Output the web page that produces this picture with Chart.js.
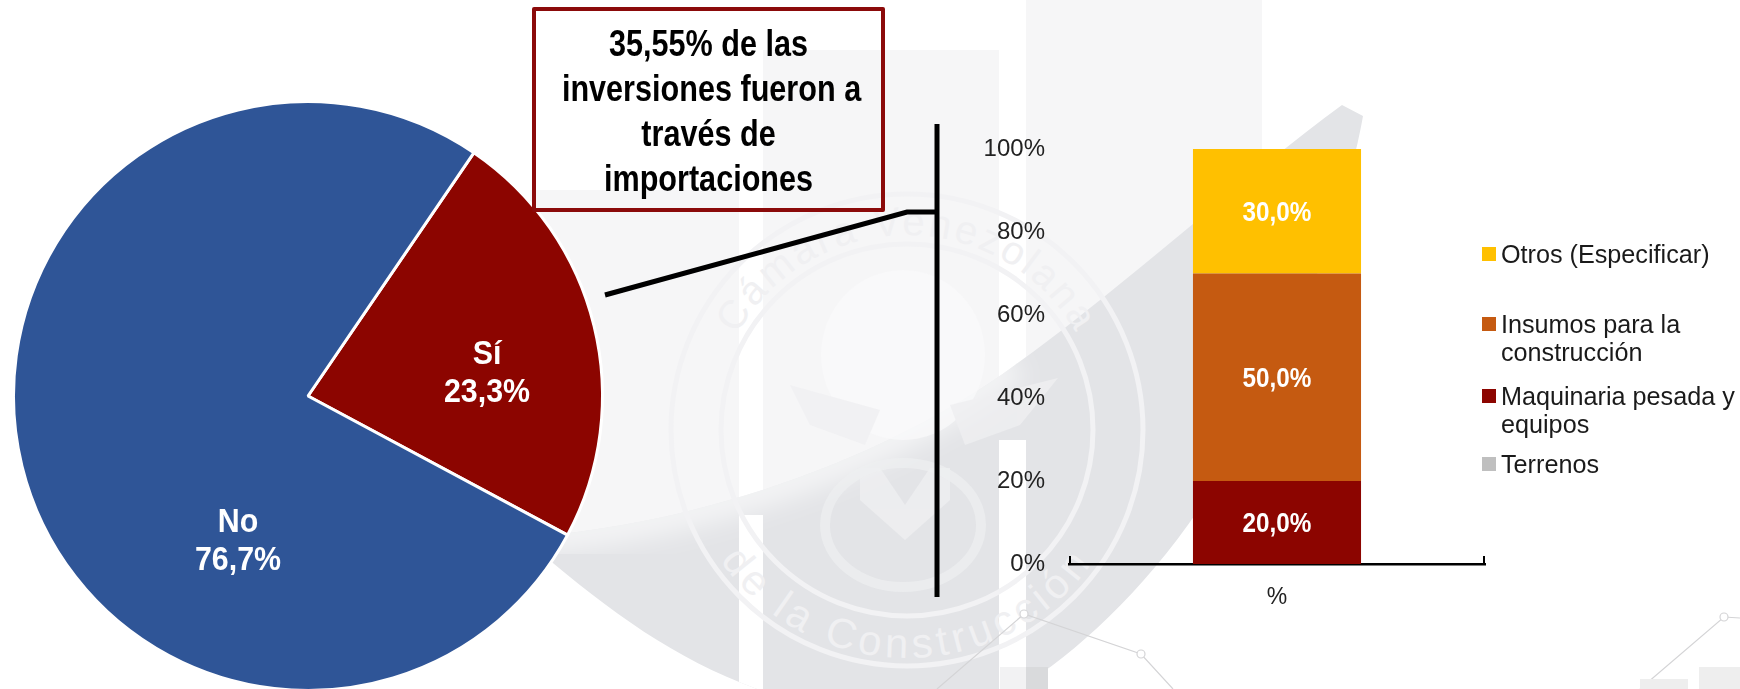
<!DOCTYPE html>
<html lang="es">
<head>
<meta charset="utf-8">
<title>Inversiones e importaciones</title>
<script src="https://cdn.jsdelivr.net/npm/chart.js@4"></script>
<style>
  html,body{margin:0;padding:0;background:#fff;}
  #stage{position:relative;width:1740px;height:689px;overflow:hidden;font-family:"Liberation Sans",Arial,sans-serif;}
  #stage>svg,#stage>div,#stage>canvas{position:absolute;}
  #bg,#over{left:0;top:0;width:1740px;height:689px;}
  #pieWrap{left:0;top:0;width:616px;height:692px;}
  #barWrap{left:960px;top:120px;width:530px;height:520px;}
  #box{left:532px;top:7px;width:353px;height:205px;box-sizing:border-box;border:4px solid #8b0a0a;border-radius:2px;}
  .bl{position:absolute;left:0;width:100%;text-align:center;font-weight:bold;font-size:36px;line-height:46px;color:#000;transform:scaleX(.85);white-space:nowrap;}
  .lg{position:absolute;left:1501px;font-size:25.2px;line-height:28px;color:#1a1a1a;white-space:nowrap;}
  .sw{position:absolute;left:1482px;width:13.5px;height:13.5px;}
</style>
</head>
<body>
<div id="stage">
  <svg id="bg" viewBox="0 0 1740 689" xmlns="http://www.w3.org/2000/svg">
    <defs>
      <path id="topArc" d="M 712 430 A 195 195 0 0 1 1102 430"/>
      <path id="botArc" d="M 679 430 A 228 228 0 0 0 1135 430"/>
      <clipPath id="swoosh"><path d="M 540 536 C 720 520 900 450 1015 365 C 1120 290 1240 180 1342 105 L 1363 116 C 1350 190 1310 320 1220 477 C 1150 590 1070 660 1000 700 L 790 700 C 690 670 620 620 540 552 Z"/></clipPath>
      <filter id="soft"><feGaussianBlur stdDeviation="12"/></filter>
    </defs>
    <rect x="530" y="190" width="209" height="370" fill="#f6f6f7"/>
    <rect x="763" y="50" width="236" height="480" fill="#f6f6f7"/>
    <rect x="1026" y="0" width="236" height="400" fill="#f6f6f7"/>
    <g clip-path="url(#swoosh)">
      <rect x="530" y="90" width="850" height="610" fill="#e3e4e7"/>
      <path d="M 540 536 C 720 520 900 450 1015 365" fill="none" stroke="#fff" stroke-opacity=".6" stroke-width="34" filter="url(#soft)"/>
      <rect x="739" y="515" width="24" height="180" fill="#fff"/>
      <rect x="999" y="440" width="27" height="255" fill="#fff"/>
    </g>
    <g fill="none" stroke="#f2f2f4" stroke-width="5">
      <circle cx="907" cy="430" r="236"/>
      <circle cx="907" cy="430" r="186"/>
    </g>
    <g fill="#f0f0f2" stroke="none" opacity=".75">
      <ellipse cx="903" cy="355" rx="82" ry="85" fill="#fafafb"/>
      <path d="M 790 385 L 880 410 L 865 445 L 810 425 Z"/>
      <path d="M 1058 378 L 950 405 L 965 445 L 1020 425 Z"/>
      <path d="M 880 468 L 905 505 L 930 468 L 950 468 L 950 500 L 905 540 L 860 500 L 860 468 Z"/>
    </g>
    <ellipse cx="903" cy="525" rx="78" ry="62" fill="none" stroke="#eef0f1" stroke-width="10" opacity=".7"/>
    <g font-family="'Liberation Sans',Arial,sans-serif" fill="#f0f0f2">
      <text font-size="40" letter-spacing="3" text-anchor="middle"><textPath href="#topArc" startOffset="50%">Cámara Venezolana</textPath></text>
      <text font-size="42" letter-spacing="5" text-anchor="middle"><textPath href="#botArc" startOffset="50%">de la Construcción</textPath></text>
    </g>
    <g fill="none" stroke="#d4d4d6" stroke-width="1.2">
      <path d="M 937 689 L 1024 614 L 1141 654 L 1173 689"/>
      <path d="M 1640 689 L 1724 617 L 1740 618"/>
    </g>
    <g fill="#fff" stroke="#d4d4d6" stroke-width="1.2">
      <circle cx="1024" cy="614" r="4"/>
      <circle cx="1141" cy="654" r="4"/>
      <circle cx="1724" cy="617" r="4"/>
    </g>
    <rect x="1000" y="667" width="26" height="22" fill="#f2f2f3"/>
    <rect x="1026" y="667" width="22" height="22" fill="#d9dadc"/>
    <rect x="1640" y="679" width="48" height="10" fill="#eeeeee"/>
    <rect x="1699" y="667" width="41" height="22" fill="#eeeeee"/>
  </svg>

  <div id="pieWrap"><canvas id="pie"></canvas></div>
  <div id="barWrap"><canvas id="bar"></canvas></div>

  <svg id="over" viewBox="0 0 1740 689" xmlns="http://www.w3.org/2000/svg">
    <path d="M 605 295 L 907 212 L 937 212" fill="none" stroke="#000" stroke-width="5"/>
    <path d="M 937 124 L 937 597" fill="none" stroke="#000" stroke-width="5"/>
  </svg>

  <div id="box"></div>
  <div id="legend"></div>
</div>

<script>
const pieCategories = ['Sí', 'No'];
const pieValues = [23.3, 76.7];
const pieColors = ['#8c0500', '#2f5597'];

const barCategories = ['%'];
const seriesNames = ['Terrenos', 'Maquinaria pesada y equipos', 'Insumos para la construcción', 'Otros (Especificar)'];
const terrenos = [0];
const maquinaria = [20];
const insumos = [50];
const otros = [30];
const seriesColors = ['#bfbfbf', '#8c0500', '#c55a11', '#ffc000'];
const yTicks = [0, 20, 40, 60, 80, 100];

const calloutLines = ['35,55% de las', 'inversiones fueron a', 'través de', 'importaciones'];
const legendLines = [
  ['Otros (Especificar)'],
  ['Insumos para la', 'construcción'],
  ['Maquinaria pesada y', 'equipos'],
  ['Terrenos']
];
const legendColors = ['#ffc000', '#c55a11', '#8c0500', '#bfbfbf'];

const FONT = '"Liberation Sans", Arial, sans-serif';
const comma = v => v.toFixed(1).replace('.', ',') + '%';

/* callout text */
const box = document.getElementById('box');
calloutLines.forEach((t, i) => {
  const d = document.createElement('div');
  d.className = 'bl';
  d.style.top = (10 + i * 45) + 'px';
  d.textContent = t;
  box.appendChild(d);
});

/* legend */
const legend = document.getElementById('legend');
const legendTops = [240, 310, 382, 450];
legendLines.forEach((lines, i) => {
  const t = document.createElement('div');
  t.className = 'lg';
  t.style.top = legendTops[i] + 'px';
  t.innerHTML = lines.join('<br>');
  legend.appendChild(t);
  const s = document.createElement('div');
  s.className = 'sw';
  s.style.top = (legendTops[i] + 7) + 'px';
  s.style.background = legendColors[i];
  legend.appendChild(s);
});

/* pie labels */
const pieLabelShift = [[36, 13], [73, 111]];
const pieLabels = {
  id: 'pieLabels',
  afterDatasetsDraw(chart) {
    const { ctx } = chart;
    const meta = chart.getDatasetMeta(0);
    meta.data.forEach((arc, i) => {
      const c = arc.getCenterPoint();
      const x = c.x + pieLabelShift[i][0], y = c.y + pieLabelShift[i][1];
      ctx.save();
      ctx.translate(x, y);
      ctx.scale(0.92, 1);
      ctx.fillStyle = '#fff';
      ctx.font = 'bold 33px ' + FONT;
      ctx.textAlign = 'center';
      ctx.textBaseline = 'middle';
      ctx.fillText(chart.data.labels[i], 0, -19);
      ctx.fillText(comma(chart.data.datasets[0].data[i]), 0, 19);
      ctx.restore();
    });
  }
};

new Chart(document.getElementById('pie'), {
  type: 'pie',
  data: {
    labels: pieCategories,
    datasets: [{ data: pieValues, backgroundColor: pieColors, borderColor: '#fff', borderWidth: 3, hoverOffset: 0 }]
  },
  options: {
    responsive: true, maintainAspectRatio: false, animation: false,
    rotation: 34.3,
    layout: { padding: { left: 12, right: 12, top: 100, bottom: 0 } },
    plugins: { legend: { display: false }, tooltip: { enabled: false } }
  },
  plugins: [pieLabels]
});

/* bar labels and axis end caps */
const barLabels = {
  id: 'barLabels',
  afterDatasetsDraw(chart) {
    const { ctx, chartArea } = chart;
    chart.data.datasets.forEach((ds, di) => {
      chart.getDatasetMeta(di).data.forEach((el, i) => {
        const v = ds.data[i];
        if (!v) return;
        const c = el.getCenterPoint();
        ctx.save();
        ctx.translate(c.x, c.y + 2);
        ctx.scale(0.9, 1);
        ctx.fillStyle = '#fff';
        ctx.font = 'bold 27px ' + FONT;
        ctx.textAlign = 'center';
        ctx.textBaseline = 'middle';
        ctx.fillText(comma(v), 0, 0);
        ctx.restore();
      });
    });
    ctx.save();
    ctx.strokeStyle = '#000';
    ctx.lineWidth = 2;
    ctx.beginPath();
    ctx.moveTo(chartArea.left + 1, chartArea.bottom);
    ctx.lineTo(chartArea.left + 1, chartArea.bottom - 8);
    ctx.moveTo(chartArea.right - 1, chartArea.bottom);
    ctx.lineTo(chartArea.right - 1, chartArea.bottom - 8);
    ctx.stroke();
    ctx.restore();
  }
};

const seriesValues = [terrenos, maquinaria, insumos, otros];
new Chart(document.getElementById('bar'), {
  type: 'bar',
  data: {
    labels: barCategories,
    datasets: seriesNames.map((name, i) => ({
      label: name,
      data: seriesValues[i],
      backgroundColor: seriesColors[i],
      barPercentage: 0.404,
      categoryPercentage: 1,
      stack: 's'
    }))
  },
  options: {
    responsive: true, maintainAspectRatio: false, animation: false,
    layout: { padding: { left: 0, right: 5, top: 29, bottom: 0 } },
    plugins: { legend: { display: false }, tooltip: { enabled: false } },
    scales: {
      x: {
        stacked: true,
        grid: { display: false },
        border: { display: true, color: '#000', width: 2.5 },
        ticks: { color: '#222', font: { family: FONT, size: 23 }, padding: 12 },
        afterFit(s) { s.height = 76; }
      },
      y: {
        stacked: true,
        min: 0, max: 100,
        grid: { display: false, drawTicks: false },
        border: { display: false },
        afterBuildTicks(s) { s.ticks = yTicks.map(v => ({ value: v })); },
        ticks: {
          color: '#222',
          padding: 24,
          font: { family: FONT, size: 24 },
          callback: v => v + '%'
        },
        afterFit(s) { s.width = 109; s.paddingTop = 0; s.paddingBottom = 0; }
      }
    }
  },
  plugins: [barLabels]
});
</script>
</body>
</html>
